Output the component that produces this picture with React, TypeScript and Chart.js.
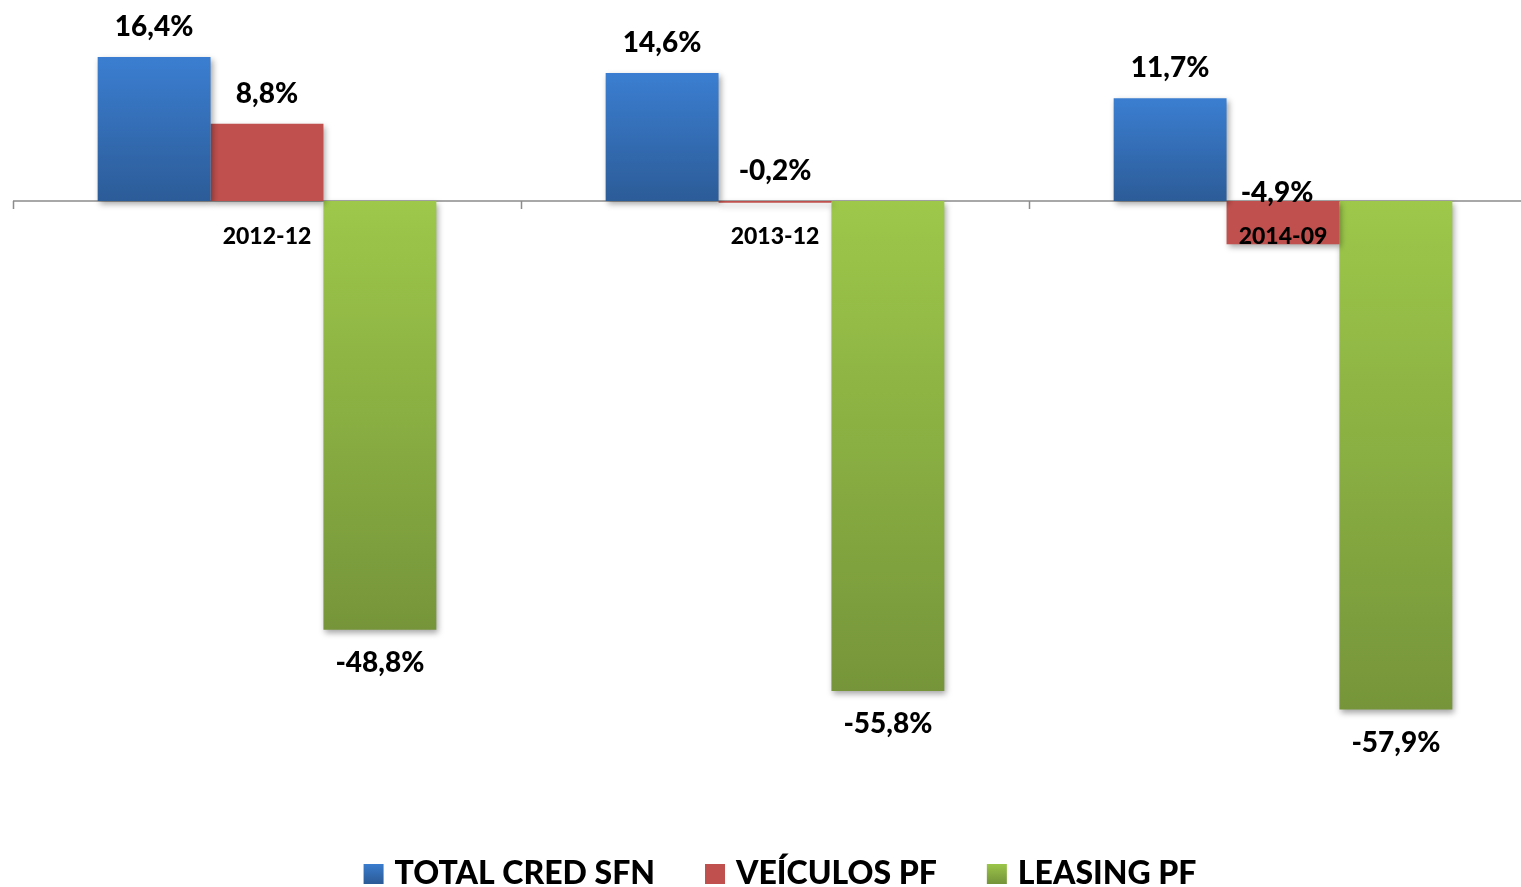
import React, { useEffect, useRef } from "react";
import { Chart, registerables } from "chart.js";

Chart.register(...registerables);

const CATEGORIES = ["2012-12", "2013-12", "2014-09"];
const SERIES_NAMES = ["TOTAL CRED SFN", "VEÍCULOS PF", "LEASING PF"];
const TOTAL_CRED_SFN = [16.4, 14.6, 11.7];
const VEICULOS_PF = [8.8, -0.2, -4.9];
const LEASING_PF = [-48.8, -55.8, -57.9];

const GRADIENTS: [string, string][] = [
  ["#3b7ed1", "#2c5c98"],
  ["#c0504d", "#c0504d"],
  ["#9dc84a", "#76953a"],
];

const FONT = "Lato, 'Open Sans', sans-serif";
const WEIGHT = "900";

function fmt(v: number) {
  return v.toFixed(1).replace(".", ",") + "%";
}

function barFill(i: number) {
  return (ctx: any) => {
    const [c1, c2] = GRADIENTS[i];
    if (ctx.type !== "data") return c1;
    const chart = ctx.chart;
    if (!chart.chartArea) return c1;
    const y = chart.scales.y;
    const p0 = y.getPixelForValue(0);
    const p1 = y.getPixelForValue(ctx.raw);
    const top = Math.min(p0, p1);
    const bot = Math.max(p0, p1);
    if (bot - top < 1) return c1;
    const g = chart.ctx.createLinearGradient(0, top, 0, bot);
    g.addColorStop(0, c1);
    g.addColorStop(1, c2);
    return g;
  };
}

const customDraw = {
  id: "customDraw",
  beforeDatasetsDraw(chart: any) {
    const ctx = chart.ctx;
    const x = chart.scales.x;
    const y = chart.scales.y;
    const y0 = y.getPixelForValue(0);
    const half = (x.getPixelForValue(1) - x.getPixelForValue(0)) / 2;
    ctx.save();
    ctx.strokeStyle = "#8c8c8c";
    ctx.lineWidth = 1.5;
    ctx.beginPath();
    ctx.moveTo(chart.chartArea.left, y0);
    ctx.lineTo(chart.chartArea.right, y0);
    for (let i = 0; i <= CATEGORIES.length; i++) {
      const px = Math.round(x.getPixelForValue(i) - half) + 0.5;
      ctx.moveTo(px, y0);
      ctx.lineTo(px, y0 + 8);
    }
    ctx.stroke();
    ctx.restore();

    ctx.save();
    ctx.shadowColor = "rgba(0,0,0,0.35)";
    ctx.shadowBlur = 6;
    ctx.shadowOffsetX = 2;
    ctx.shadowOffsetY = 3;
  },
  afterDatasetsDraw(chart: any) {
    const ctx = chart.ctx;
    ctx.restore();
    const x = chart.scales.x;
    const y = chart.scales.y;
    const y0 = y.getPixelForValue(0);

    ctx.save();
    ctx.fillStyle = "#000";
    ctx.textAlign = "center";
    ctx.textBaseline = "middle";

    // category labels
    ctx.font = `${WEIGHT} 23px ${FONT}`;
    CATEGORIES.forEach((c, i) => {
      ctx.fillText(c, x.getPixelForValue(i), y0 + 35);
    });

    // data labels
    ctx.font = `${WEIGHT} 28px ${FONT}`;
    chart.data.datasets.forEach((ds: any, di: number) => {
      const meta = chart.getDatasetMeta(di);
      meta.data.forEach((bar: any, i: number) => {
        const v = ds.data[i];
        let lx = bar.x;
        let ly;
        if (di === 2) {
          ly = Math.max(bar.y, bar.base) + 33;
        } else {
          ly = Math.min(bar.y, bar.base) - 30;
          if (di === 1 && v < -1) {
            ly = Math.min(bar.y, bar.base) - 8;
            lx = bar.x - 6;
          }
        }
        ctx.fillText(fmt(v), lx, ly);
      });
    });

    // legend
    ctx.font = `${WEIGHT} 32px ${FONT}`;
    ctx.textAlign = "left";
    const box = 20;
    const gapText = 11;
    const gapItem = 50;
    const widths = SERIES_NAMES.map((n) => box + gapText + ctx.measureText(n).width);
    const total = widths.reduce((a, b) => a + b, 0) + gapItem * (SERIES_NAMES.length - 1);
    let lx = 780 - total / 2;
    const ly = 873;
    SERIES_NAMES.forEach((n, i) => {
      const g = ctx.createLinearGradient(0, ly - box / 2, 0, ly + box / 2);
      g.addColorStop(0, GRADIENTS[i][0]);
      g.addColorStop(1, GRADIENTS[i][1]);
      ctx.fillStyle = g;
      ctx.fillRect(lx, ly - box / 2 + 1, box, box);
      ctx.fillStyle = "#000";
      ctx.fillText(n, lx + box + gapText, ly + 1);
      lx += widths[i] + gapItem;
    });
    ctx.restore();
  },
};

export default function App() {
  const ref = useRef<HTMLCanvasElement | null>(null);
  useEffect(() => {
    if (!ref.current) return;
    const seriesValues = [TOTAL_CRED_SFN, VEICULOS_PF, LEASING_PF];
    const chart = new Chart(ref.current, {
      type: "bar",
      data: {
        labels: CATEGORIES,
        datasets: seriesValues.map((vals, i) => ({
          label: SERIES_NAMES[i],
          data: vals,
          backgroundColor: barFill(i),
          borderWidth: 0,
          categoryPercentage: 3 / 4.5,
          barPercentage: 1.0,
        })),
      },
      options: {
        responsive: false,
        animation: false,
        devicePixelRatio: 1,
        layout: { padding: { left: 13, right: 0, top: 0, bottom: 87 } },
        plugins: {
          legend: { display: false },
          tooltip: { enabled: false },
        },
        scales: {
          x: { display: false },
          y: { display: false, min: -68.2, max: 22.9 },
        },
      },
      plugins: [customDraw],
    });
    return () => chart.destroy();
  }, []);
  return (
    <div style={{ position: "fixed", left: 0, top: 0, width: 1537, height: 887, background: "#fff" }}>
      <canvas ref={ref} width={1537} height={887} />
    </div>
  );
}
